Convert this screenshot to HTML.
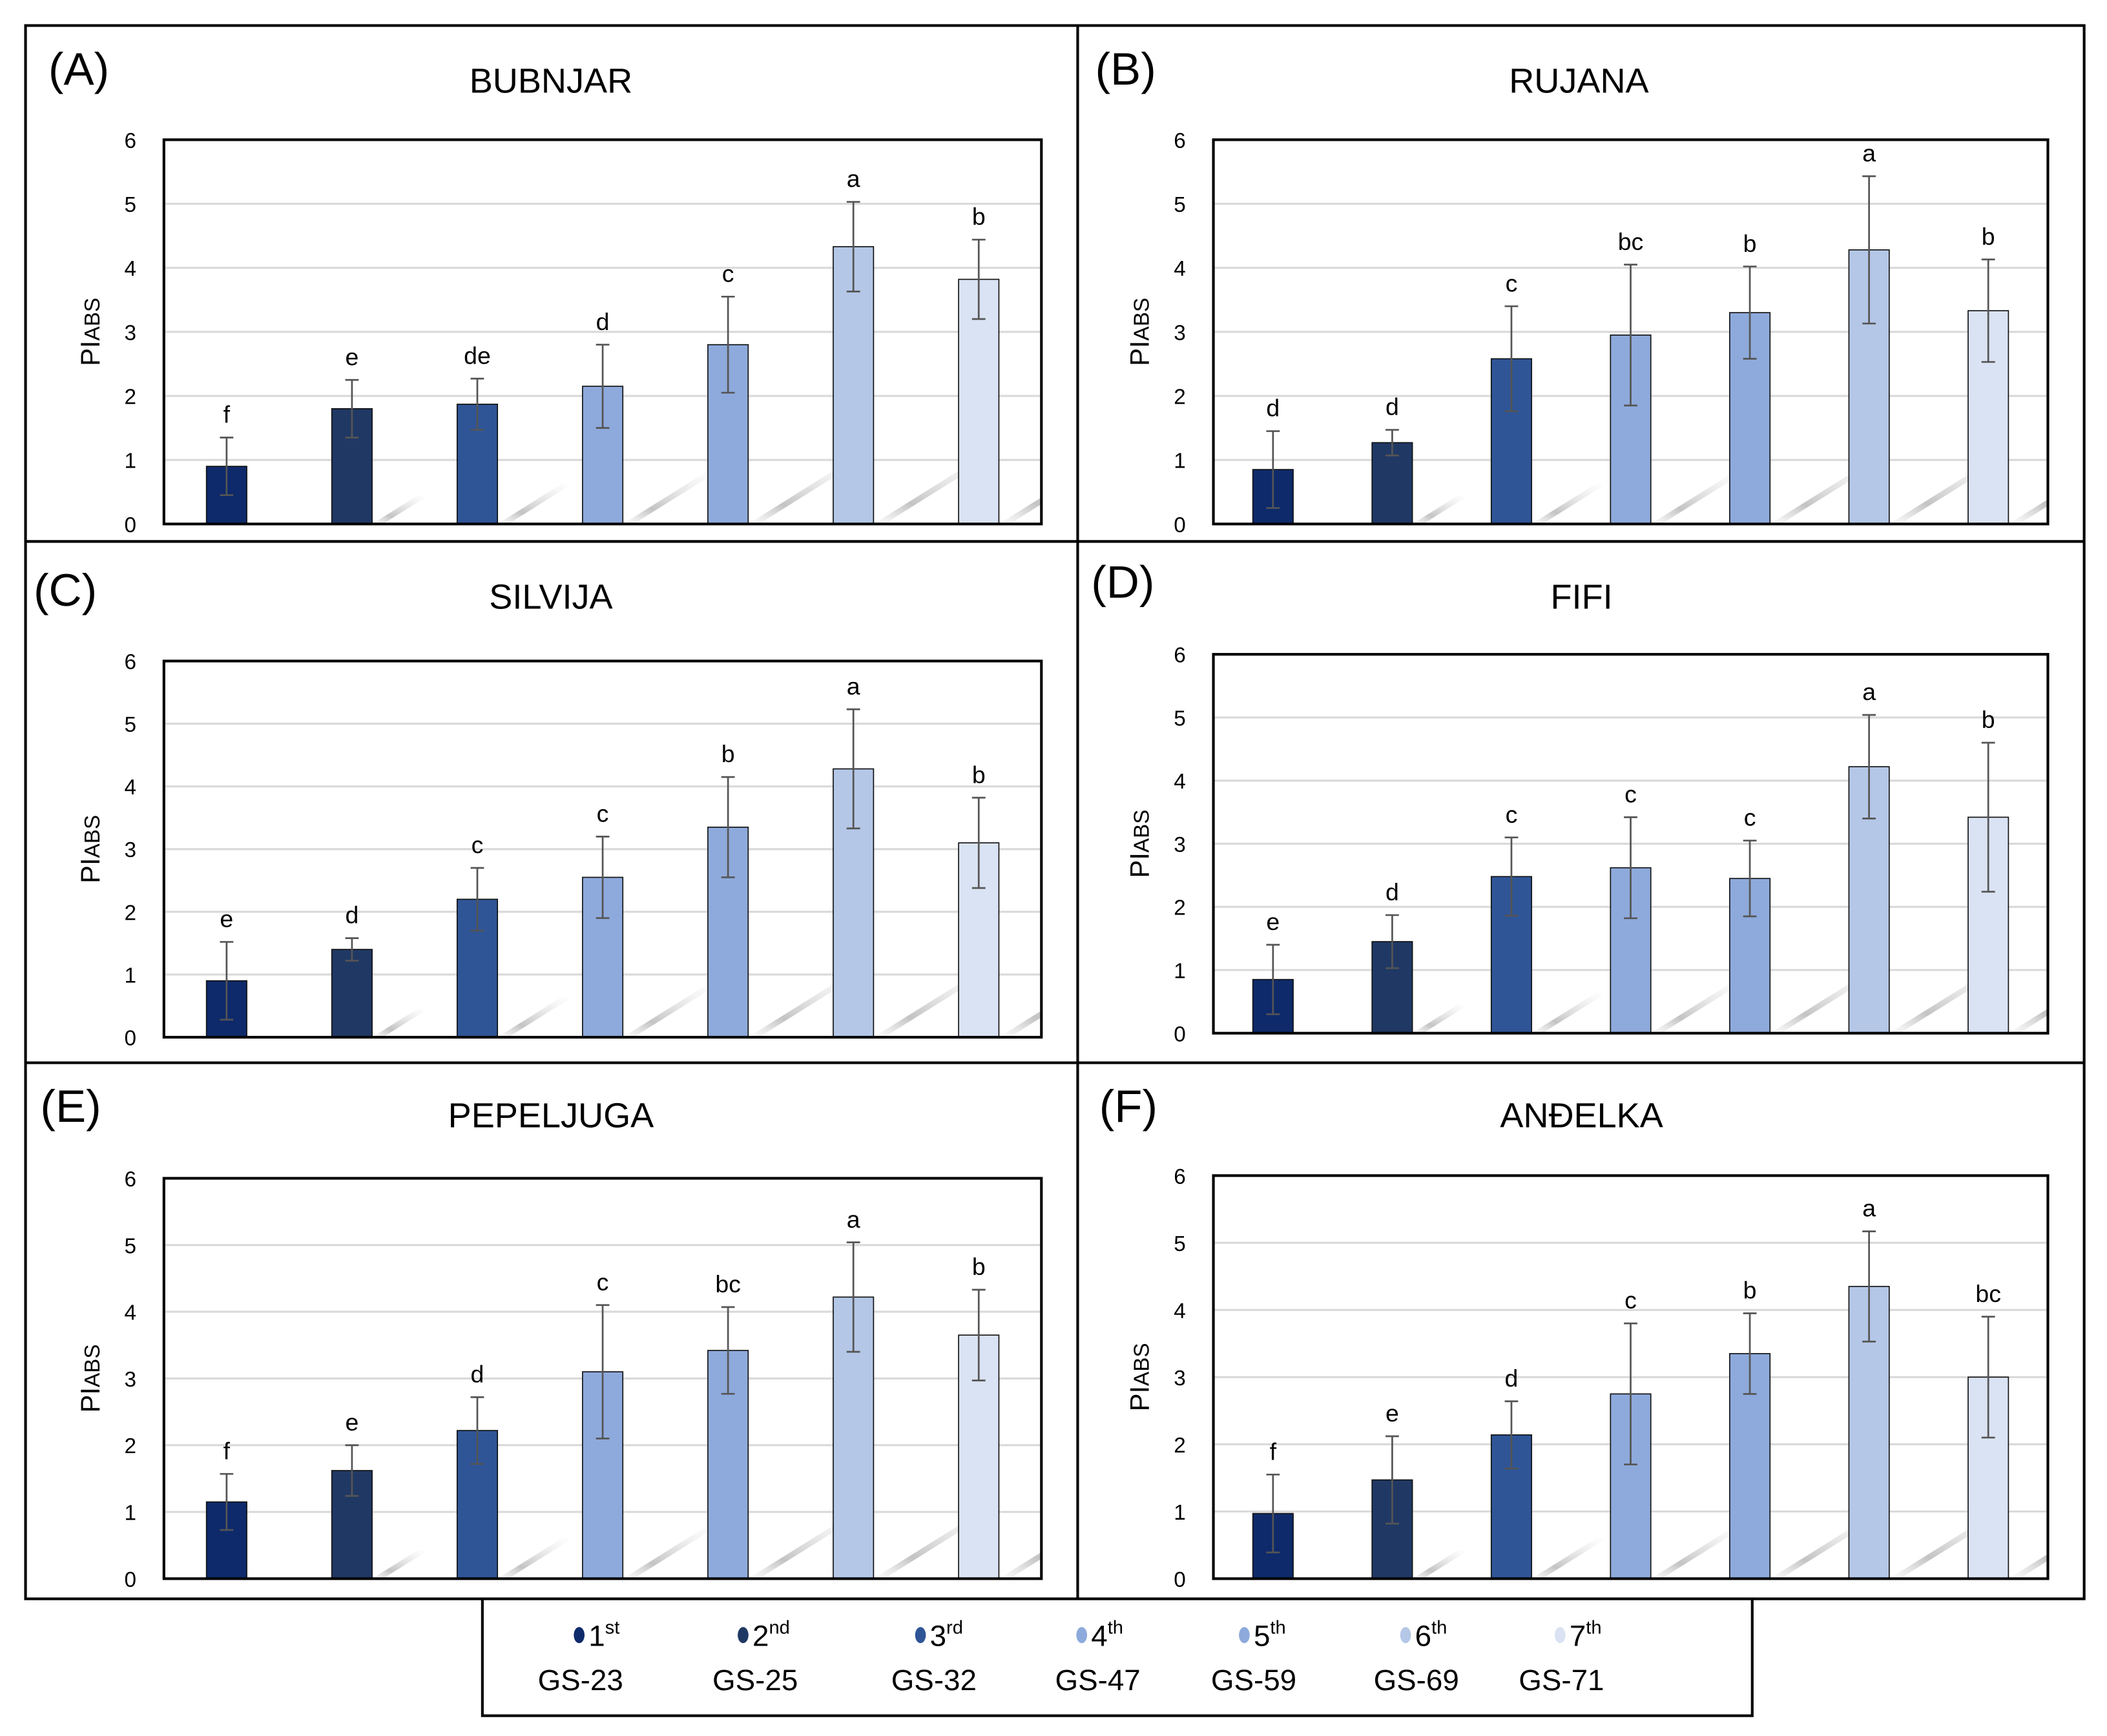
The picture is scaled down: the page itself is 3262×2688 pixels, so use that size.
<!DOCTYPE html>
<html><head><meta charset="utf-8"><style>
html,body{margin:0;padding:0;background:#fff}
svg{display:block}
text{font-family:"Liberation Sans",sans-serif;fill:#000}
</style></head><body>
<svg id="fig" width="3262" height="2688" viewBox="0 0 1568 1292.1" preserveAspectRatio="none" xmlns="http://www.w3.org/2000/svg">
<defs id="defs">
<linearGradient id="shg" x1="0" y1="1" x2="1" y2="0">
<stop offset="0" stop-color="#bbb" stop-opacity="0.0"/>
<stop offset="0.3" stop-color="#aaa" stop-opacity="0.7"/>
<stop offset="1" stop-color="#ddd" stop-opacity="0"/>
</linearGradient>
</defs>
<rect x="0" y="0" width="1568" height="1293" fill="#fff"/>
<g id="frame">
<rect x="19" y="19" width="1532" height="1171" fill="none" stroke="#000" stroke-width="2"/>
<line x1="802" y1="19" x2="802" y2="1190" stroke="#000" stroke-width="2"/>
<line x1="19" y1="403" x2="1551" y2="403" stroke="#000" stroke-width="2"/>
<line x1="19" y1="791" x2="1551" y2="791" stroke="#000" stroke-width="2"/>
</g>
<g id="panels"></g>
<g id="legend">
<rect x="359" y="1190" width="945" height="87" fill="#fff" stroke="#000" stroke-width="2"/>
</g>
</svg>
<script>
const categories = ["GS-23","GS-25","GS-32","GS-47","GS-59","GS-69","GS-71"];
const ordinals = ["1","2","3","4","5","6","7"];
const ordSuffix = ["st","nd","rd","th","th","th","th"];
const colors = ["#0e2a6a","#203864","#2f5597","#8eaadc","#8eaadc","#b4c7e7","#dae3f3"];
const panelNames = ["BUBNJAR","RUJANA","SILVIJA","FIFI","PEPELJUGA","ANĐELKA"];
const panelLabels = ["(A)","(B)","(C)","(D)","(E)","(F)"];
const yTicks = [0,1,2,3,4,5,6];
const valuesA = [0.9,1.8,1.87,2.15,2.8,4.33,3.82];
const errA = [0.45,0.45,0.4,0.65,0.75,0.7,0.62];
const lettersA = ["f","e","de","d","c","a","b"];
const valuesB = [0.85,1.27,2.58,2.95,3.3,4.28,3.33];
const errB = [0.6,0.2,0.82,1.1,0.72,1.15,0.8];
const lettersB = ["d","d","c","bc","b","a","b"];
const valuesC = [0.9,1.4,2.2,2.55,3.35,4.28,3.1];
const errC = [0.62,0.18,0.5,0.65,0.8,0.95,0.72];
const lettersC = ["e","d","c","c","b","a","b"];
const valuesD = [0.85,1.45,2.48,2.62,2.45,4.22,3.42];
const errD = [0.55,0.42,0.62,0.8,0.6,0.82,1.18];
const lettersD = ["e","d","c","c","c","a","b"];
const valuesE = [1.15,1.62,2.22,3.1,3.42,4.22,3.65];
const errE = [0.42,0.38,0.5,1.0,0.65,0.82,0.68];
const lettersE = ["f","e","d","c","bc","a","b"];
const valuesF = [0.97,1.47,2.14,2.75,3.35,4.35,3.0];
const errF = [0.58,0.65,0.5,1.05,0.6,0.82,0.9];
const lettersF = ["f","e","d","c","b","a","bc"];
const allValues = [valuesA,valuesB,valuesC,valuesD,valuesE,valuesF];
const allErr = [errA,errB,errC,errD,errE,errF];
const allLetters = [lettersA,lettersB,lettersC,lettersD,lettersE,lettersF];

const NS="http://www.w3.org/2000/svg";
function mk(tag,attrs,parent){const e=document.createElementNS(NS,tag);for(const k in attrs)e.setAttribute(k,attrs[k]);parent.appendChild(e);return e;}
const layouts=[
 {l:122,r:775,t:104,b:390,lx:36,ly:63,tx:410,ty:69},
 {l:903,r:1524,t:104,b:390,lx:815,ly:63,tx:1175,ty:69},
 {l:122,r:775,t:492,b:772,lx:25,ly:451,tx:410,ty:453},
 {l:903,r:1524,t:487,b:769,lx:812,ly:445,tx:1177,ty:453},
 {l:122,r:775,t:877,b:1175,lx:30,ly:835,tx:410,ty:839},
 {l:903,r:1524,t:875,b:1175,lx:818,ly:835,tx:1177,ty:839}
];
const root=document.getElementById('panels');
const defs=document.getElementById('defs');
layouts.forEach((L,p)=>{
 const cp=mk('clipPath',{id:'clip'+p},defs);
 mk('rect',{x:L.l,y:L.t,width:L.r-L.l,height:L.b-L.t},cp);
 const g=mk('g',{},root);
 
 
 const y=v=>L.b-(v/6)*(L.b-L.t);
 const band=(L.r-L.l)/categories.length;
 const x=i=>L.l+(i+0.5)*band;
 const lab=mk('text',{x:L.lx,y:L.ly,'font-size':34},g);lab.textContent=panelLabels[p];
 
 
 const tt=mk('text',{x:L.tx,y:L.ty,'font-size':26,'text-anchor':'middle'},g);tt.textContent=panelNames[p];
 
 
 yTicks.forEach(v=>{
  if(v>0&&v<6){const gl=mk('line',{x1:L.l,x2:L.r,y1:y(v),y2:y(v),stroke:'#d9d9d9','stroke-width':1.5},g);
  
  }
  const t=mk('text',{x:L.l-25,y:y(v)+6,'font-size':16,'text-anchor':'middle'},g);t.textContent=v;
  
  
 });
 const yt=mk('text',{x:0,y:0,'font-size':20,'text-anchor':'middle',transform:`translate(${L.l-48},${(L.t+L.b)/2}) rotate(-90)`},g);
 yt.innerHTML='PI<tspan font-size="16">ABS</tspan>';
 
 
 const shg=mk('g',{'clip-path':`url(#clip${p})`},g);
 const vals=allValues[p],errs=allErr[p],lets=allLetters[p];
 vals.forEach((v,i)=>{
  const bw=30;
  if(i>0){
   const sl=Math.min(12+i*9,(L.b-L.t)*0.18);
   const sh=mk('path',{d:`M${x(i)+bw/2} ${L.b}l${sl*1.6} ${-sl}l8 0l${-sl*1.6} ${sl}z`,fill:'url(#shg)'},shg);
   
   
  }
  const b=mk('rect',{x:x(i)-bw/2,y:y(v),width:bw,height:L.b-y(v),fill:colors[i],stroke:'#111','stroke-width':0.8},g);
  
  
  const e=mk('path',{d:`M${x(i)} ${y(v+errs[i])}V${y(v-errs[i])}M${x(i)-5} ${y(v+errs[i])}h10M${x(i)-5} ${y(v-errs[i])}h10`,stroke:'#555','stroke-width':1.3,fill:'none'},g);
  
  
  const lt=mk('text',{x:x(i),y:y(v+errs[i])-11,'font-size':18,'text-anchor':'middle'},g);lt.textContent=lets[i];
  
  
 });
 const ax=mk('rect',{x:L.l,y:L.t,width:L.r-L.l,height:L.b-L.t,fill:'none',stroke:'#000','stroke-width':2},g);
 
 
});
const leg=document.getElementById('legend');
const dotX=[431,553,685,805,926,1046,1161];
const gsX=[432,562,695,817,933,1054,1162];
categories.forEach((c,i)=>{
 const g=mk('g',{},leg);
 
 
 mk('ellipse',{cx:dotX[i],cy:1217,rx:4,ry:6,fill:colors[i]},g);
 const t=mk('text',{x:dotX[i]+7,y:1225,'font-size':22},g);
 t.innerHTML=ordinals[i]+'<tspan font-size="14" dy="-9">'+ordSuffix[i]+'</tspan>';
 const t2=mk('text',{x:gsX[i],y:1258,'font-size':22,'text-anchor':'middle'},g);t2.textContent=c;
});
</script>
</body></html>
